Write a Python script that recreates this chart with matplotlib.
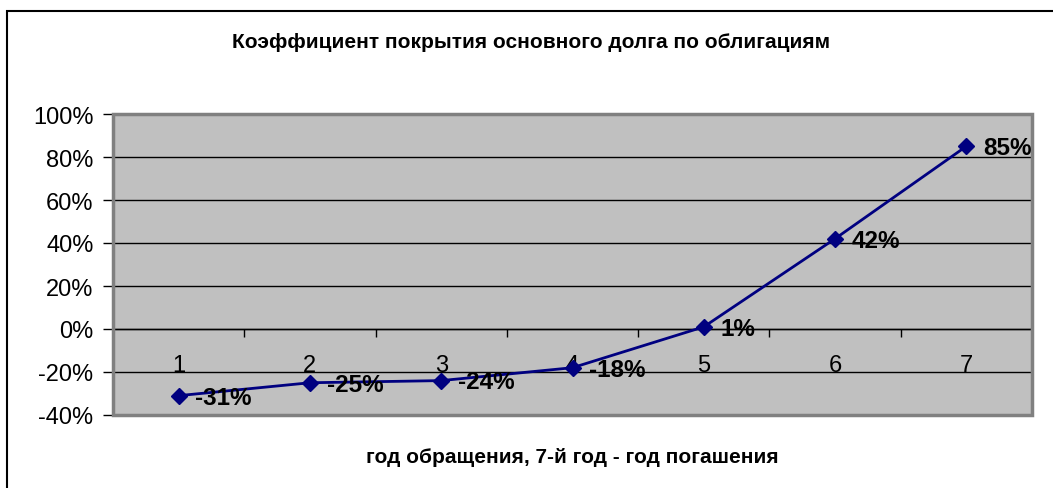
import matplotlib
matplotlib.use("Agg")
import matplotlib.pyplot as plt
from matplotlib.patches import Rectangle
from matplotlib.ticker import FuncFormatter, FixedLocator

plt.rcParams['font.family'] = ['Liberation Sans', 'DejaVu Sans']

years = [1, 2, 3, 4, 5, 6, 7]
values = [-31, -25, -24, -18, 1, 42, 85]
labels = ["-31%", "-25%", "-24%", "-18%", "1%", "42%", "85%"]
title = "Коэффициент покрытия основного долга по облигациям"
xlabel = "год обращения, 7-й год - год погашения"

W, H = 1053, 489
fig = plt.figure(figsize=(W / 100, H / 100), dpi=100)
ax = fig.add_axes([113 / W, 1 - 416 / H, (1032 - 113) / W, (416 - 115) / H])

ax.set_facecolor('#C0C0C0')
ax.set_xlim(0.5, 7.5)
ax.set_ylim(-40, 100)

# grid lines
ax.set_yticks(range(-40, 101, 20))
ax.yaxis.grid(True, color='black', linewidth=1)
ax.set_axisbelow(True)
ax.yaxis.set_major_formatter(FuncFormatter(lambda v, p: f"{int(v)}%"))
ax.tick_params(axis='y', labelsize=17, length=7, width=1, color='black', pad=7, direction='out')

# spines
for s in ['top', 'right']:
    ax.spines[s].set_visible(False)
ax.spines['left'].set_color('#808080')
ax.spines['left'].set_linewidth(2)
ax.spines['bottom'].set_position(('data', 0))
ax.spines['bottom'].set_color('black')
ax.spines['bottom'].set_linewidth(1)

ax.xaxis.set_major_locator(FixedLocator(years))
ax.set_xticklabels([str(y) for y in years])
ax.xaxis.set_minor_locator(FixedLocator([y + 0.5 for y in years[:-1]]))
ax.tick_params(axis='x', which='major', length=0, labelsize=17, pad=18)
ax.tick_params(axis='x', which='minor', length=6, width=1, color='black', direction='out')

# plot area border
ax.add_patch(Rectangle((0, 0), 1, 1, transform=ax.transAxes, fill=False,
                       edgecolor='#808080', linewidth=2.5, zorder=5, clip_on=False))

ax.plot(years, values, color='#000080', linewidth=2, marker='D', markersize=8,
        markerfacecolor='#000080', markeredgecolor='#000080', zorder=6)

for x, v, lab in zip(years, values, labels):
    ax.annotate(lab, (x, v), xytext=(12, -1), textcoords='offset points',
                ha='left', va='center', fontsize=17.5, fontweight='bold', zorder=7)

fig.text(531 / W, 1 - 43 / H, title, ha='center', va='center', fontsize=15, fontweight='bold')
fig.text(572 / W, 1 - 458 / H, xlabel, ha='center', va='center', fontsize=15, fontweight='bold')

# outer frame
fig.patches.append(Rectangle((7 / W, -0.1), 1.2, (H - 12) / H + 0.1, transform=fig.transFigure,
                             fill=False, edgecolor='black', linewidth=1.5, figure=fig))

fig.savefig('out.png', dpi=100)
